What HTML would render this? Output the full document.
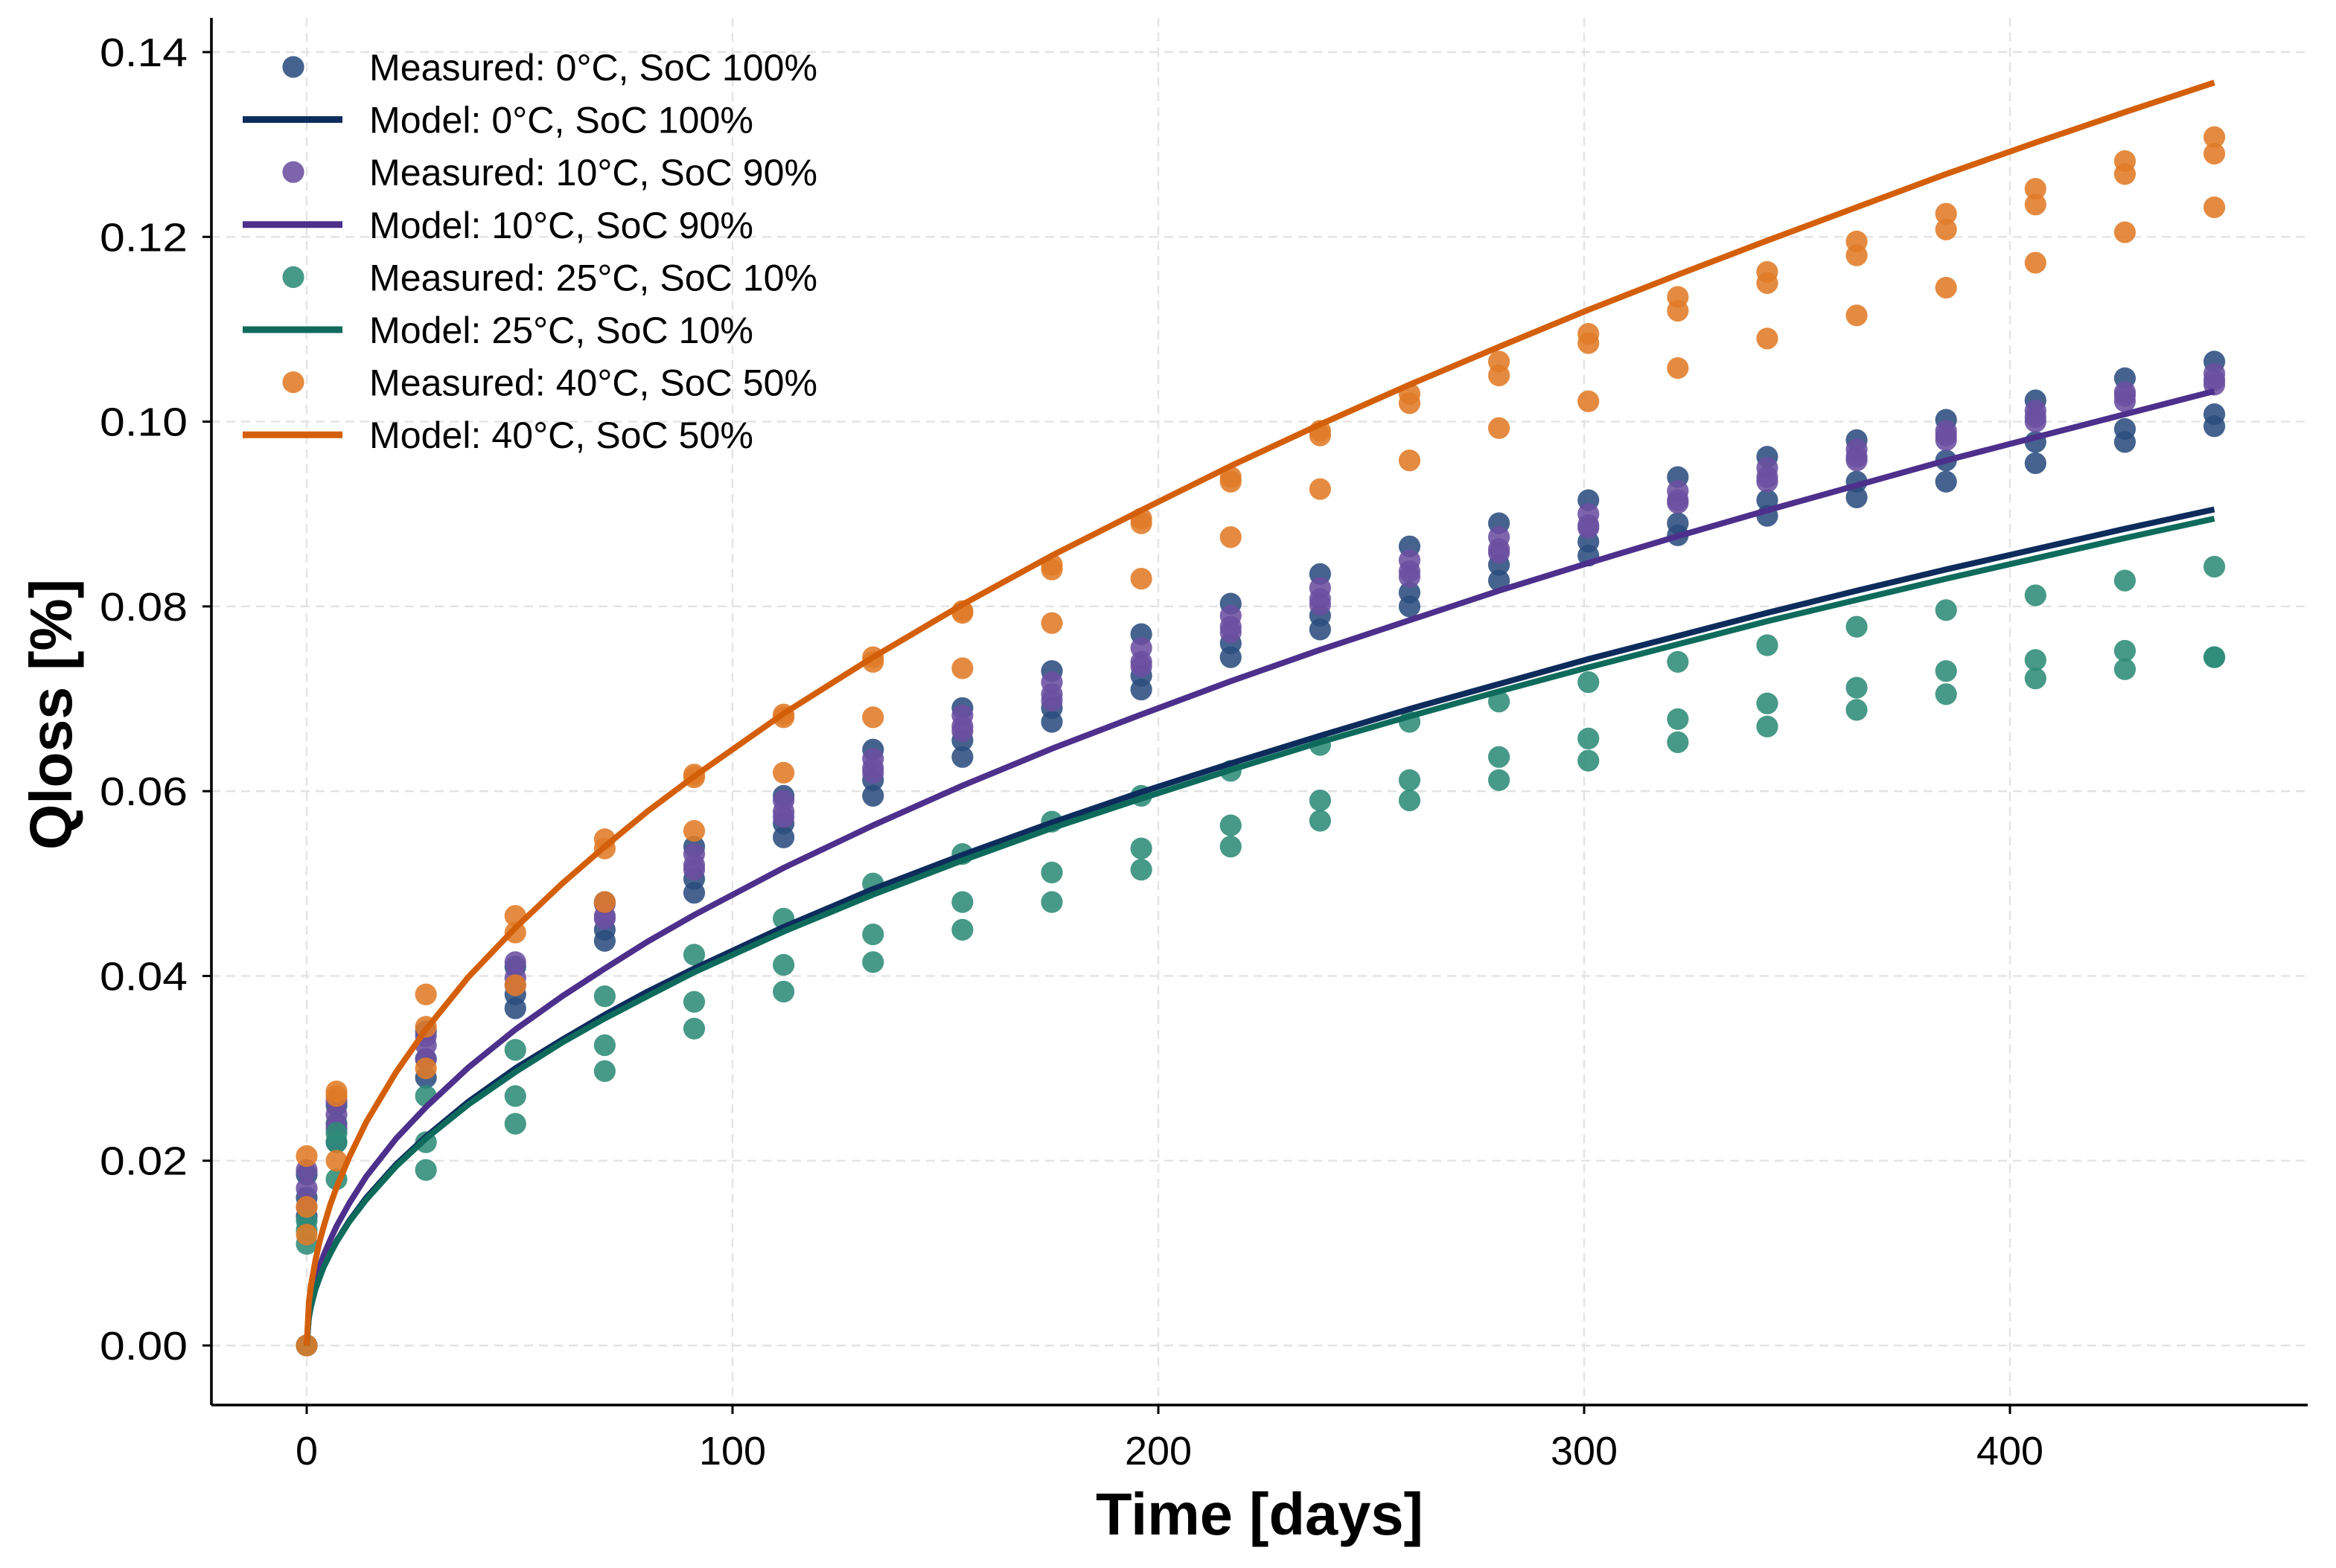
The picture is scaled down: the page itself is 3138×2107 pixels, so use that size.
<!DOCTYPE html>
<html><head><meta charset="utf-8">
<style>
html,body{margin:0;padding:0;background:#fff;}
svg{display:block;}
text{font-family:"Liberation Sans",Arial,sans-serif;}
</style></head>
<body>
<svg id="chart" width="3138" height="2107" viewBox="0 0 1569 1053.5" xmlns="http://www.w3.org/2000/svg">
<g id="grid"></g>
<g id="series"></g>
<g id="axes"></g>
<g id="legend"></g>
</svg>
<script>
const times = [0,7,28,49,70,91,112,133,154,175,196,217,238,259,280,301,322,343,364,385,406,427,448];
const navyA = [0.0185,0.026,0.034,0.041,0.048,0.054,0.0595,0.0645,0.069,0.073,0.077,0.0803,0.0835,0.0865,0.089,0.0915,0.094,0.0962,0.098,0.1002,0.1023,0.1047,0.1065];
const navyB = [0.016,0.024,0.031,0.038,0.045,0.0505,0.0565,0.0612,0.0655,0.069,0.0725,0.076,0.079,0.0815,0.0845,0.087,0.089,0.0915,0.0935,0.0958,0.0978,0.0992,0.1008];
const navyC = [0.014,0.022,0.029,0.0365,0.0438,0.049,0.055,0.0595,0.0637,0.0675,0.071,0.0745,0.0775,0.08,0.0828,0.0855,0.0877,0.0898,0.0918,0.0935,0.0955,0.0978,0.0995];
const purpA = [0.019,0.0265,0.0335,0.0415,0.0478,0.0532,0.059,0.0635,0.0682,0.0718,0.0755,0.079,0.082,0.085,0.0875,0.09,0.0925,0.095,0.097,0.099,0.1012,0.1032,0.1052];
const purpB = [0.017,0.025,0.0325,0.0398,0.0465,0.052,0.0578,0.0625,0.067,0.0705,0.074,0.0778,0.0808,0.0838,0.0862,0.0888,0.0915,0.094,0.0962,0.0985,0.1005,0.1028,0.1045];
const purpC = [0.015,0.0235,0.031,0.039,0.0462,0.0515,0.0572,0.062,0.0665,0.0698,0.0735,0.0772,0.0802,0.0832,0.0858,0.0885,0.0912,0.0935,0.0958,0.098,0.1,0.1022,0.104];
const greenA = [0.0135,0.023,0.027,0.032,0.0378,0.0423,0.0462,0.05,0.0532,0.0567,0.0595,0.0622,0.065,0.0675,0.0697,0.0718,0.074,0.0758,0.0778,0.0796,0.0812,0.0828,0.0843];
const greenB = [0.0125,0.022,0.022,0.027,0.0325,0.0372,0.0412,0.0445,0.048,0.0512,0.0538,0.0563,0.059,0.0612,0.0637,0.0657,0.0678,0.0695,0.0712,0.073,0.0742,0.0752,0.0745];
const greenC = [0.011,0.018,0.019,0.024,0.0297,0.0343,0.0383,0.0415,0.045,0.048,0.0515,0.054,0.0568,0.059,0.0612,0.0633,0.0653,0.067,0.0688,0.0705,0.0722,0.0732,0.0745];
const orangeA = [0.0205,0.0275,0.038,0.0465,0.0548,0.0618,0.0683,0.0745,0.0795,0.0845,0.0895,0.094,0.099,0.103,0.1065,0.1095,0.1135,0.1162,0.1195,0.1225,0.1252,0.1282,0.1308];
const orangeB = [0.015,0.027,0.0345,0.0447,0.0538,0.0615,0.068,0.074,0.0793,0.084,0.089,0.0935,0.0985,0.102,0.105,0.1085,0.112,0.115,0.118,0.1208,0.1235,0.1268,0.129];
const orangeC = [0.012,0.020,0.030,0.039,0.048,0.0557,0.062,0.068,0.0733,0.0782,0.083,0.0875,0.0927,0.0958,0.0993,0.1022,0.1058,0.109,0.1115,0.1145,0.1172,0.1205,0.1232];
const modelTimes = [0,0.5,1,2,3,4,5.5,7,10,14,21,28,38,49,60,70,80,91,112,133,154,175,196,217,238,259,280,301,322,343,364,385,406,427,448];
const modelNavy = [0,0.003,0.0043,0.0061,0.0074,0.0086,0.01,0.0113,0.0135,0.016,0.0196,0.0226,0.0264,0.03,0.0331,0.0358,0.0383,0.0408,0.0453,0.0494,0.0531,0.0566,0.0599,0.063,0.066,0.0689,0.0716,0.0743,0.0768,0.0793,0.0817,0.084,0.0862,0.0884,0.0905];
const modelPurp = [0,0.0035,0.0049,0.0069,0.0085,0.0098,0.0114,0.0129,0.0154,0.0183,0.0224,0.0258,0.0301,0.0342,0.0378,0.0408,0.0437,0.0466,0.0517,0.0563,0.0606,0.0646,0.0683,0.0719,0.0753,0.0785,0.0817,0.0847,0.0876,0.0904,0.0931,0.0958,0.0983,0.1008,0.1033];
const modelGreen = [0,0.003,0.0042,0.006,0.0073,0.0085,0.0099,0.0112,0.0134,0.0158,0.0194,0.0224,0.0261,0.0296,0.0328,0.0354,0.0378,0.0404,0.0448,0.0488,0.0525,0.056,0.0592,0.0623,0.0653,0.0681,0.0708,0.0734,0.0759,0.0784,0.0807,0.083,0.0852,0.0874,0.0895];
const modelOrange = [0,0.0046,0.0065,0.0091,0.0112,0.0129,0.0152,0.0171,0.0204,0.0242,0.0296,0.0342,0.0399,0.0452,0.0500,0.0540,0.0578,0.0616,0.0684,0.0745,0.0802,0.0855,0.0904,0.0952,0.0997,0.104,0.1081,0.1121,0.1159,0.1196,0.1232,0.1268,0.1302,0.1335,0.1367];
const xTicks = [0,100,200,300,400];
const yTicks = [0,0.02,0.04,0.06,0.08,0.10,0.12,0.14];
const yTickLabels = ["0.00","0.02","0.04","0.06","0.08","0.10","0.12","0.14"];
const legendLabels = ["Measured: 0°C, SoC 100%","Model: 0°C, SoC 100%","Measured: 10°C, SoC 90%","Model: 10°C, SoC 90%","Measured: 25°C, SoC 10%","Model: 25°C, SoC 10%","Measured: 40°C, SoC 50%","Model: 40°C, SoC 50%"];

const NS="http://www.w3.org/2000/svg";
const L=142,R=1550,T=12,B=944;
function xs(t){return 206+t*(1350-206)/400;}
function ys(v){return 904-v*(904-35)/0.14;}
function mk(tag,attrs,parent){const e=document.createElementNS(NS,tag);for(const k in attrs)e.setAttribute(k,attrs[k]);parent.appendChild(e);return e;}
const grid=document.getElementById('grid'),ser=document.getElementById('series'),ax=document.getElementById('axes'),leg=document.getElementById('legend');

xTicks.forEach(t=>{const g=mk('line',{x1:xs(t),x2:xs(t),y1:T,y2:B,stroke:'#e3e3e3','stroke-width':1.2,'stroke-dasharray':'6,4'},grid);

});
yTicks.forEach(v=>{const g=mk('line',{x1:L,x2:R,y1:ys(v),y2:ys(v),stroke:'#e3e3e3','stroke-width':1.2,'stroke-dasharray':'6,4'},grid);

});

const dotSets=[[navyA,navyB,navyC,'#2b4d7e','measured-0c'],[purpA,purpB,purpC,'#6b4fa0','measured-10c'],[greenA,greenB,greenC,'#2e8b78','measured-25c'],[orangeA,orangeB,orangeC,'#e07b27','measured-40c']];
const models=[[modelNavy,'#0d2c5c','model-0c'],[modelPurp,'#4d2f8c','model-10c'],[modelGreen,'#0e6b5b','model-25c'],[modelOrange,'#d45f0a','model-40c']];
dotSets.forEach(s=>{[s[0],s[1],s[2]].forEach(arr=>{arr.forEach((v,i)=>{const c=mk('circle',{cx:xs(times[i]),cy:ys(v),r:7.3,fill:s[3],'fill-opacity':0.88},ser);

});});
const z=mk('circle',{cx:xs(0),cy:ys(0),r:7.3,fill:s[3],'fill-opacity':0.88},ser);

});
models.forEach(m=>{const d=m[0].map((v,i)=>(i?'L':'M')+xs(modelTimes[i]).toFixed(2)+','+ys(v).toFixed(2)).join(' ');
const p=mk('path',{d:d,fill:'none',stroke:m[1],'stroke-width':4,'stroke-linejoin':'round'},ser);

});

let a=mk('line',{x1:L,x2:L,y1:T,y2:B,stroke:'#000','stroke-width':1.8},ax);


a=mk('line',{x1:L,x2:R,y1:B,y2:B,stroke:'#000','stroke-width':1.8},ax);


xTicks.forEach(t=>{mk('line',{x1:xs(t),x2:xs(t),y1:B,y2:B+6,stroke:'#000','stroke-width':1.5},ax);
const tx=mk('text',{x:xs(t),y:B+40,'font-size':27,'text-anchor':'middle',fill:'#000',textLength:(String(t).length*15),lengthAdjust:'spacingAndGlyphs'},ax);tx.textContent=t;

});
yTicks.forEach((v,i)=>{mk('line',{x1:L-6,x2:L,y1:ys(v),y2:ys(v),stroke:'#000','stroke-width':1.5},ax);
const tx=mk('text',{x:L-16,y:ys(v)+9.5,'font-size':27,'text-anchor':'end',fill:'#000',textLength:59,lengthAdjust:'spacingAndGlyphs'},ax);tx.textContent=yTickLabels[i];

});
let tt=mk('text',{x:846,y:1031,'font-size':40,'font-weight':'bold','text-anchor':'middle',textLength:220,lengthAdjust:'spacingAndGlyphs'},ax);tt.textContent='Time [days]';


tt=mk('text',{x:0,y:0,'font-size':40,'font-weight':'bold','text-anchor':'middle',transform:'translate(48,480) rotate(-90)',textLength:182,lengthAdjust:'spacingAndGlyphs'},ax);tt.textContent='Qloss [%]';



const legColors=['#2b4d7e','#0d2c5c','#6b4fa0','#4d2f8c','#2e8b78','#0e6b5b','#e07b27','#d45f0a'];
const legWidths=[301,258,301,258,301,258,301,258];
legendLabels.forEach((lab,i)=>{const y=45+i*35.3;
if(i%2===0){const c=mk('circle',{cx:197,cy:y,r:7.3,fill:legColors[i],'fill-opacity':0.88},leg);

}
else{const l=mk('line',{x1:163,x2:230,y1:y,y2:y,stroke:legColors[i],'stroke-width':4.5},leg);

}
const tx=mk('text',{x:248,y:y+9,'font-size':25,fill:'#000',textLength:legWidths[i],lengthAdjust:'spacingAndGlyphs'},leg);tx.textContent=lab;

});
</script>
</body></html>
